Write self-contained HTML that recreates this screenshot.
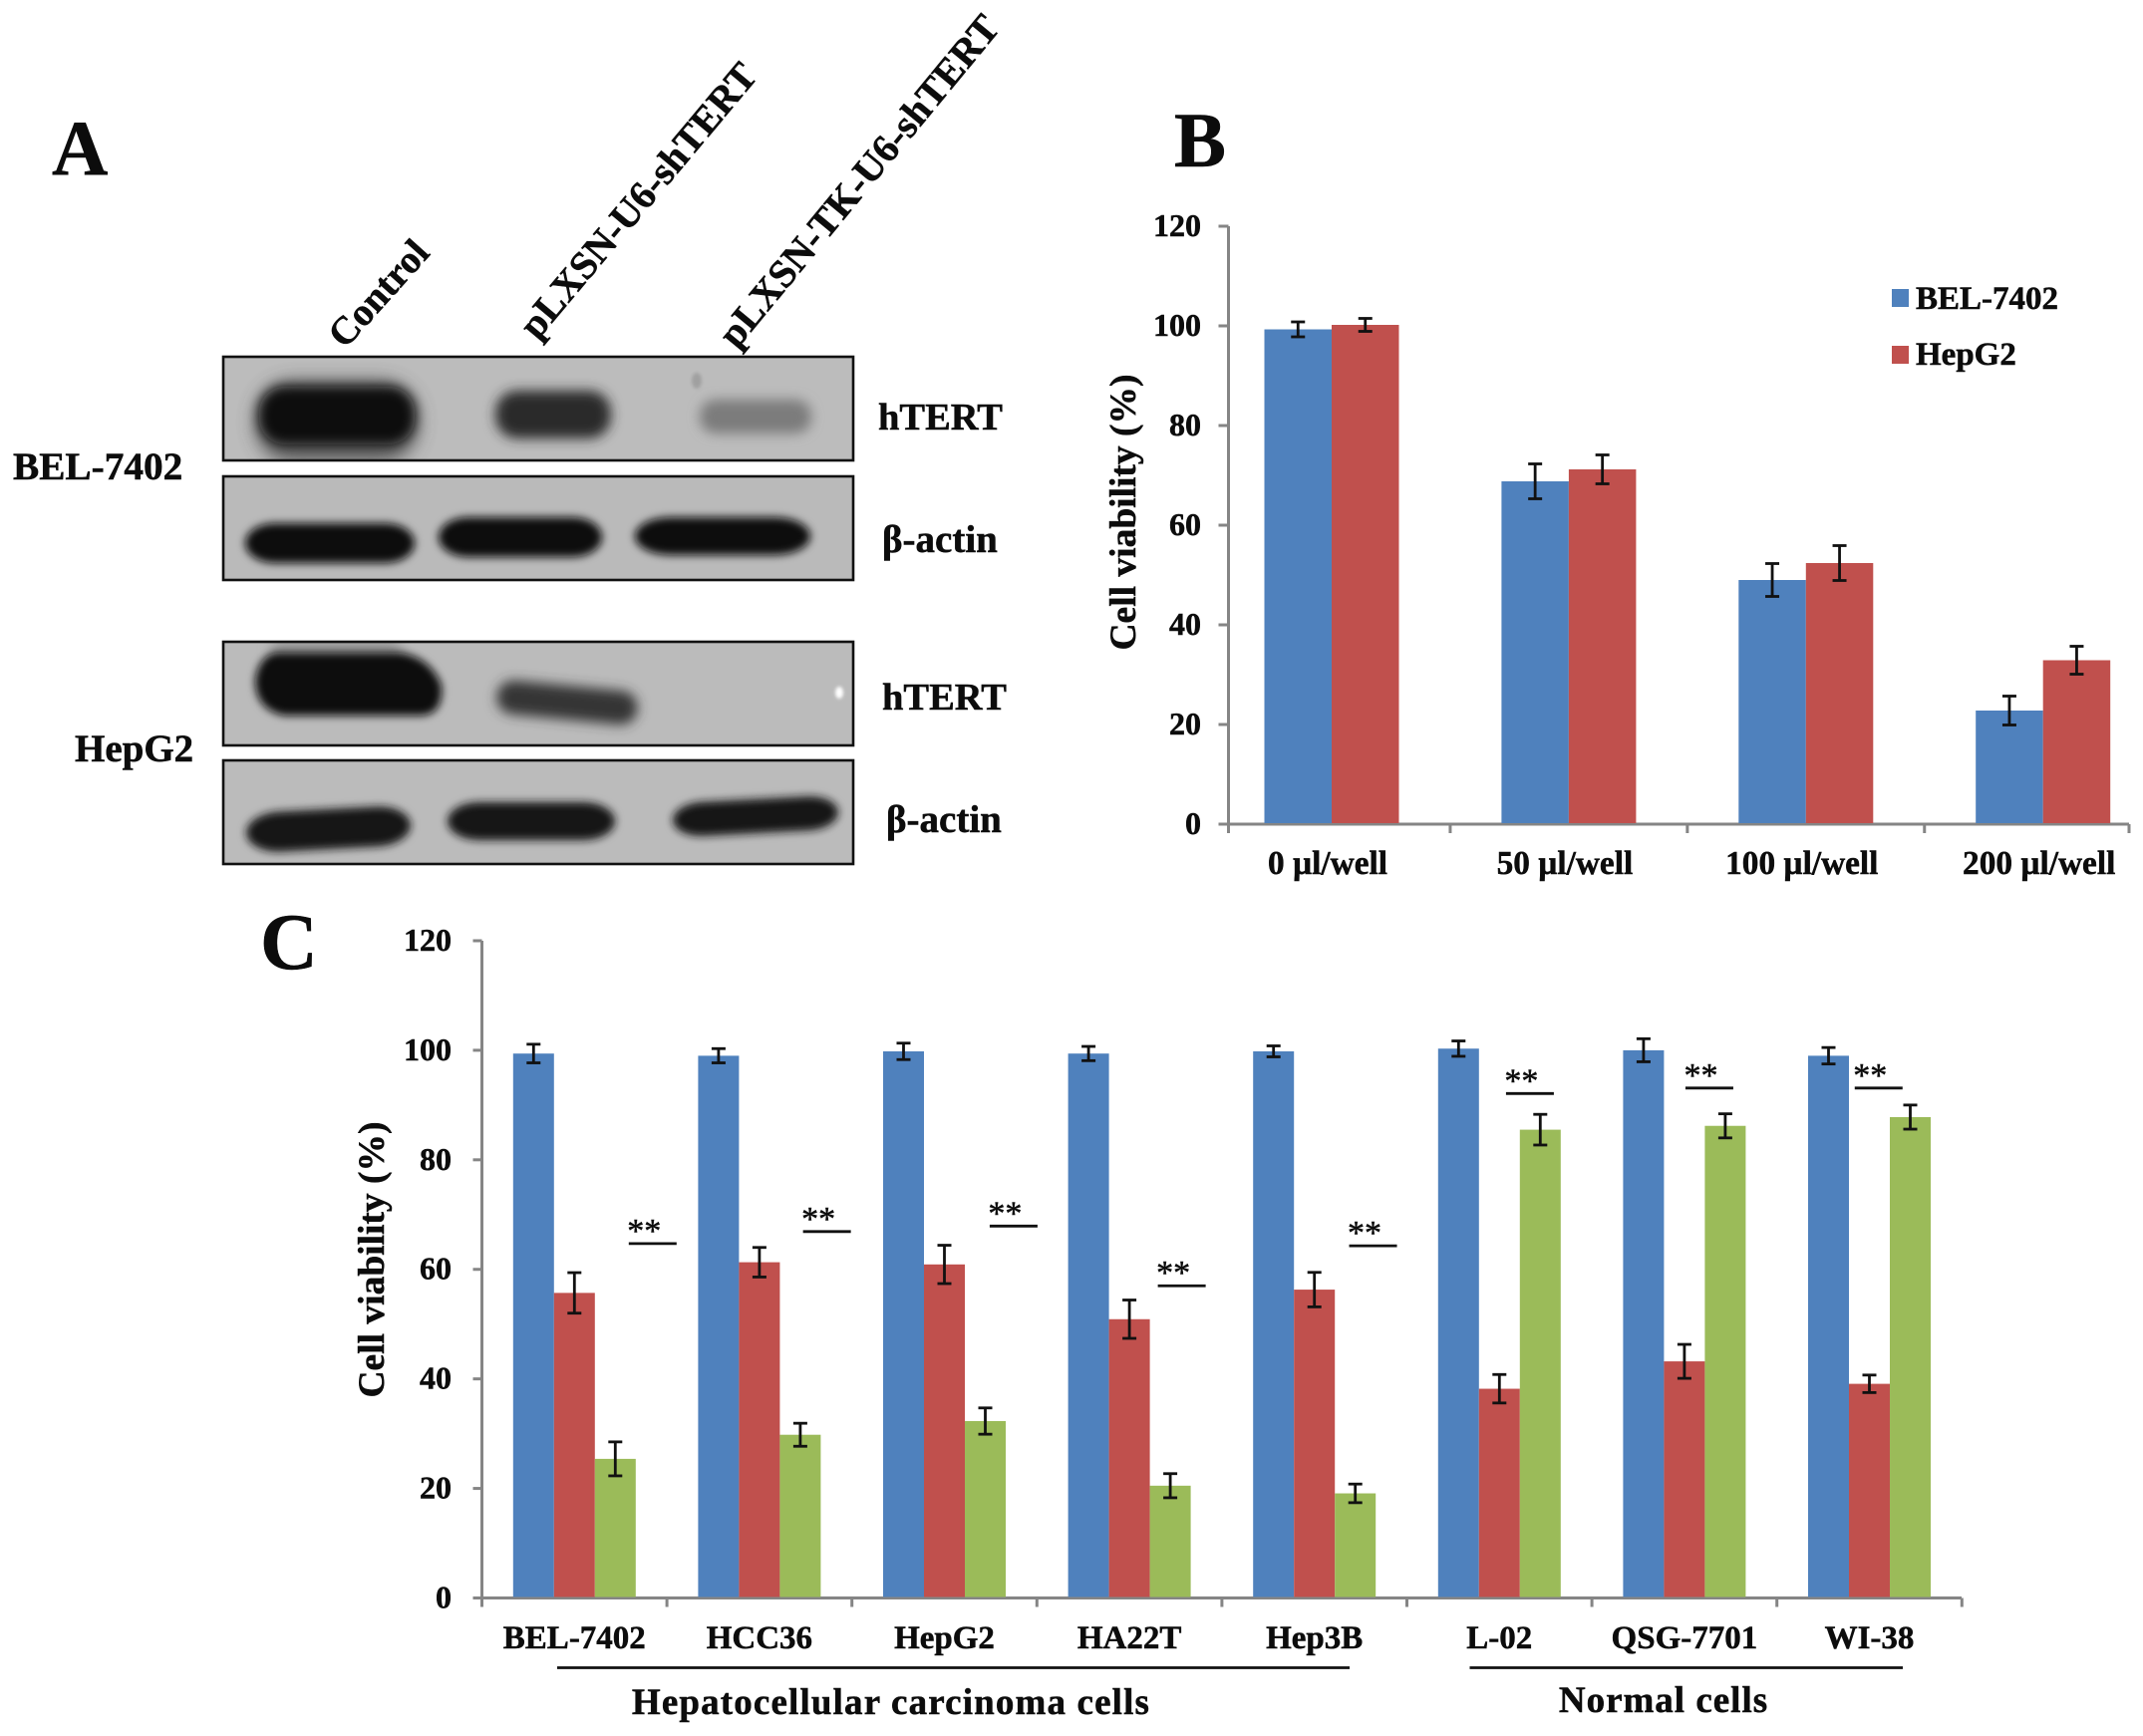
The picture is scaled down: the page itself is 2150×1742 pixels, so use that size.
<!DOCTYPE html>
<html lang="en">
<head>
<meta charset="utf-8">
<title>Western blot and cell viability figure</title>
<style>
html,body{margin:0;padding:0;background:#fff;width:2150px;height:1742px;overflow:hidden}
svg{display:block}
text{font-family:"Liberation Serif","DejaVu Serif",serif;font-weight:bold;fill:#0c0c0c;stroke:#0c0c0c;stroke-width:.5px}
</style>
</head>
<body>
<svg id="figure" xmlns="http://www.w3.org/2000/svg" width="2150" height="1742" viewBox="0 0 2150 1742">
  <defs>
    <filter id="soft8" x="-40%" y="-80%" width="180%" height="260%"><feGaussianBlur stdDeviation="9"/></filter>
    <filter id="soft6" x="-40%" y="-80%" width="180%" height="260%"><feGaussianBlur stdDeviation="6"/></filter>
    <filter id="soft4" x="-30%" y="-60%" width="160%" height="220%"><feGaussianBlur stdDeviation="4.2"/></filter>
    <filter id="soft2" x="-100%" y="-100%" width="300%" height="300%"><feGaussianBlur stdDeviation="1.5"/></filter>
    <clipPath id="clip1"><rect x="224" y="358" width="632" height="104"/></clipPath>
    <clipPath id="clip2"><rect x="224" y="478" width="632" height="104"/></clipPath>
    <clipPath id="clip3"><rect x="224" y="644" width="632" height="104"/></clipPath>
    <clipPath id="clip4"><rect x="224" y="763" width="632" height="104"/></clipPath>
  </defs>
  <rect width="2150" height="1742" fill="#ffffff"/>

  <text x="52" y="175" font-size="78">A</text>
  <text x="1178" y="167" font-size="78">B</text>
  <text x="261" y="972" font-size="80">C</text>

  <!-- Panel A -->
  <g>
    <text font-size="39" transform="translate(346 351) rotate(-48)">Control</text>
    <text font-size="39.6" transform="translate(539 342) rotate(-50)">pLXSN-U6-shTERT</text>
    <text font-size="39.7" transform="translate(739 351) rotate(-50.5)">pLXSN-TK-U6-shTERT</text>

    <g>
      <rect x="224" y="358" width="632" height="104" fill="#bcbcbc"/>
      <g clip-path="url(#clip1)">
        <rect x="256" y="382" width="164" height="82" rx="38" fill="#444444" opacity=".8" filter="url(#soft8)"/>
        <rect x="260" y="388" width="156" height="58" rx="26" fill="#0f0f0f" filter="url(#soft6)"/>
        <rect x="497" y="392" width="116" height="48" rx="22" fill="#2c2c2c" filter="url(#soft6)"/>
        <rect x="702" y="401" width="112" height="34" rx="16" fill="#7c7c7c" filter="url(#soft6)"/>
        <ellipse cx="699" cy="382" rx="5" ry="8" fill="#a0a0a0" filter="url(#soft2)"/>
      </g>
      <rect x="224" y="358" width="632" height="104" fill="none" stroke="#111" stroke-width="2.6"/>
    </g>
    <g>
      <rect x="224" y="478" width="632" height="104" fill="#bababa"/>
      <g clip-path="url(#clip2)" filter="url(#soft4)">
        <rect x="246" y="525" width="170" height="40" rx="30" ry="20" fill="#111"/>
        <rect x="440" y="519" width="164" height="40" rx="30" ry="20" fill="#111"/>
        <rect x="637" y="519" width="176" height="38" rx="36" ry="19" fill="#111"/>
      </g>
      <rect x="224" y="478" width="632" height="104" fill="none" stroke="#111" stroke-width="2.6"/>
    </g>
    <g>
      <rect x="224" y="644" width="632" height="104" fill="#bbbbbb"/>
      <g clip-path="url(#clip3)">
        <rect x="272" y="640" width="130" height="30" rx="10" fill="#9c9c9c" filter="url(#soft6)"/>
        <path d="M277 655 H402 Q432 660 443 688 Q445 716 424 718 H285 Q256 712 256 682 Q260 658 277 655 Z" fill="#111" filter="url(#soft4)"/>
        <rect x="498" y="688" width="142" height="34" rx="17" fill="#343434" transform="rotate(5.5 569 705)" filter="url(#soft6)"/>
        <ellipse cx="842" cy="695" rx="4" ry="6" fill="#ffffff" filter="url(#soft2)"/>
      </g>
      <rect x="224" y="644" width="632" height="104" fill="none" stroke="#111" stroke-width="2.6"/>
    </g>
    <g>
      <rect x="224" y="763" width="632" height="104" fill="#bbbbbb"/>
      <g clip-path="url(#clip4)" filter="url(#soft4)">
        <rect x="247" y="812" width="165" height="40" rx="34" ry="20" fill="#121212" transform="rotate(-3 329 832)"/>
        <rect x="449" y="805" width="168" height="38" rx="32" ry="19" fill="#121212"/>
        <rect x="675" y="802" width="166" height="34" rx="30" ry="17" fill="#121212" transform="rotate(-3 758 819)"/>
      </g>
      <rect x="224" y="763" width="632" height="104" fill="none" stroke="#111" stroke-width="2.6"/>
    </g>

    <text x="881" y="431" font-size="38.5">hTERT</text>
    <text x="885" y="554" font-size="39">β-actin</text>
    <text x="885" y="712" font-size="38.5">hTERT</text>
    <text x="889" y="835" font-size="39">β-actin</text>
    <text x="13" y="481" font-size="39.3">BEL-7402</text>
    <text x="75" y="764" font-size="39">HepG2</text>
  </g>

  <g id="chart-b"></g>
  <g id="chart-c"></g>
</svg>

<script>
/* ---------- Panel B data ---------- */
const bCategories = ['0 µl/well', '50 µl/well', '100 µl/well', '200 µl/well'];
const bSeriesNames = ['BEL-7402', 'HepG2'];
const bBel7402 = [99.3, 68.8, 49.0, 22.8];
const bHepG2 = [100.2, 71.2, 52.4, 32.9];
const bBel7402Err = [1.5, 3.5, 3.3, 2.9];
const bHepG2Err = [1.3, 2.9, 3.5, 2.8];
const bTicks = [0, 20, 40, 60, 80, 100, 120];

/* ---------- Panel C data ---------- */
const cCategories = ['BEL-7402', 'HCC36', 'HepG2', 'HA22T', 'Hep3B', 'L-02', 'QSG-7701', 'WI-38'];
const cBlue = [99.4, 99.0, 99.8, 99.4, 99.8, 100.3, 100.0, 99.0];
const cRed = [55.7, 61.3, 60.9, 50.9, 56.3, 38.2, 43.2, 39.1];
const cGreen = [25.4, 29.8, 32.3, 20.5, 19.1, 85.5, 86.2, 87.8];
const cBlueErr = [1.7, 1.3, 1.5, 1.3, 1.0, 1.4, 2.1, 1.5];
const cRedErr = [3.7, 2.7, 3.5, 3.5, 3.15, 2.6, 3.1, 1.6];
const cGreenErr = [3.1, 2.1, 2.4, 2.2, 1.7, 2.8, 2.2, 2.2];
const cTicks = [0, 20, 40, 60, 80, 100, 120];
const cSigLevel = [64.7, 66.9, 67.9, 57.0, 64.3, 92.1, 93.1, 93.1];
const cSigCategoryPos = [0.923, 1.865, 2.874, 3.783, 4.817, 5.665, 6.635, 7.55];

const NS = 'http://www.w3.org/2000/svg';
const BLUE = '#4f81bd', RED = '#c0504d', GREEN = '#9bbb59', AXIS = '#858585', INK = '#0c0c0c';

function rect(parent, x, y, w, h, fill) {
  const el = document.createElementNS(NS, 'rect');
  el.setAttribute('x', x);
  el.setAttribute('y', y);
  el.setAttribute('width', w);
  el.setAttribute('height', h);
  el.setAttribute('fill', fill);
  parent.appendChild(el);
  return el;
}
function line(parent, x1, y1, x2, y2, stroke, sw) {
  const el = document.createElementNS(NS, 'line');
  el.setAttribute('x1', x1);
  el.setAttribute('y1', y1);
  el.setAttribute('x2', x2);
  el.setAttribute('y2', y2);
  el.setAttribute('stroke', stroke);
  el.setAttribute('stroke-width', sw);
  parent.appendChild(el);
  return el;
}
function label(parent, str, x, y, size, anchor) {
  const el = document.createElementNS(NS, 'text');
  el.setAttribute('x', x);
  el.setAttribute('y', y);
  el.setAttribute('font-size', size);
  el.setAttribute('text-anchor', anchor || 'start');
  el.textContent = str;
  parent.appendChild(el);
  return el;
}
function group(parent) {
  const el = document.createElementNS(NS, 'g');
  parent.appendChild(el);
  return el;
}
function errorBar(parent, x, yHi, yLo) {
  const g = group(parent);
  line(g, x, yHi, x, yLo, '#111', 2.8);
  line(g, x - 7, yHi, x + 7, yHi, '#111', 2.8);
  line(g, x - 7, yLo, x + 7, yLo, '#111', 2.8);
  return g;
}

/* ---------- Panel B ---------- */
(function () {
  const root = document.getElementById('chart-b');
  const axisX = 1232.5, axisEnd = 2136, y0 = 827, pxPerUnit = 5.0;
  const center0 = 1336, step = 237.9, barW = 67.5;
  const yB = v => y0 - v * pxPerUnit;
  const xB = i => center0 + step * i;

  const yAxis = line(root, axisX, yB(120), axisX, y0, AXIS, 3);
  
  
  const xAxis = line(root, axisX - 10, y0, axisEnd, y0, AXIS, 3);
  
  

  bTicks.forEach(t => {
    const tk = line(root, axisX - 10, yB(t), axisX, yB(t), AXIS, 3);
    
    
    const lb = label(root, String(t), 1205, yB(t) + 10, 32, 'end');
    
    
  });

  const edges = [axisX].concat(bCategories.slice(1).map((c, i) => xB(i) + step / 2), [axisEnd]);
  edges.forEach((x, i) => {
    const tk = line(root, x, y0, x, y0 + 9, AXIS, 3);
    
    
  });

  bCategories.forEach((c, i) => {
    const x = xB(i);
    const b1 = rect(root, x - barW, yB(bBel7402[i]), barW, y0 - yB(bBel7402[i]) - 1, BLUE);
    
    
    const b2 = rect(root, x, yB(bHepG2[i]), barW, y0 - yB(bHepG2[i]) - 1, RED);
    
    
    const e1 = errorBar(root, x - barW / 2, yB(bBel7402[i] + bBel7402Err[i]), yB(bBel7402[i] - bBel7402Err[i]));
    
    
    const e2 = errorBar(root, x + barW / 2, yB(bHepG2[i] + bHepG2Err[i]), yB(bHepG2[i] - bHepG2Err[i]));
    
    
    const lb = label(root, c, x - 4, 877, 33.3, 'middle');
    
    
  });

  const title = label(root, 'Cell viability (%)', 0, 0, 37.5, 'middle');
  title.setAttribute('transform', 'translate(1139 514) rotate(-90)');
  
  

  const legendColors = [BLUE, RED];
  const legendSwatchY = [290, 347];
  const legendTextY = [310, 366];
  bSeriesNames.forEach((n, i) => {
    const lg = group(root);
    
    
    rect(lg, 1898, legendSwatchY[i], 17, 18, legendColors[i]);
    label(lg, n, 1922, legendTextY[i], 33);
  });
})();

/* ---------- Panel C ---------- */
(function () {
  const root = document.getElementById('chart-c');
  const axisX = 483.5, axisEnd = 1968, y0 = 1603.5, pxPerUnit = 5.496;
  const step = 185.6, barW = 41;
  const yC = v => y0 - v * pxPerUnit;
  const xC = i => axisX + step * (i + 0.5);

  const yAxis = line(root, axisX, yC(120), axisX, y0, AXIS, 3);
  
  
  const xAxis = line(root, axisX - 9, y0, axisEnd, y0, AXIS, 3);
  
  

  cTicks.forEach(t => {
    const tk = line(root, axisX - 9, yC(t), axisX, yC(t), AXIS, 3);
    
    
    const lb = label(root, String(t), 453, yC(t) + 10, 32, 'end');
    
    
  });

  for (let i = 0; i <= cCategories.length; i++) {
    const x = axisX + step * i;
    const tk = line(root, x, y0, x, y0 + 9, AXIS, 3);
    
    
  }

  const seriesVals = [cBlue, cRed, cGreen];
  const seriesErr = [cBlueErr, cRedErr, cGreenErr];
  const seriesColor = [BLUE, RED, GREEN];
  const seriesKey = ['blue', 'red', 'green'];

  cCategories.forEach((c, i) => {
    const cx = xC(i);
    seriesVals.forEach((vals, s) => {
      const left = cx - 1.5 * barW + s * barW;
      const bar = rect(root, left, yC(vals[i]), barW, y0 - yC(vals[i]) - 1, seriesColor[s]);
      
      
    });
    seriesVals.forEach((vals, s) => {
      const mid = cx - barW + s * barW;
      const err = errorBar(root, mid, yC(vals[i] + seriesErr[s][i]), yC(vals[i] - seriesErr[s][i]));
      
      
    });
    const lb = label(root, c, cx, 1654, 33, 'middle');
    
    

    const sx = axisX + step * cSigCategoryPos[i];
    const sy = yC(cSigLevel[i]);
    const sig = line(root, sx - 24, sy, sx + 24, sy, '#111', 2.8);
    
    
    const st = label(root, '**', sx - 8.5, sy - 2, 34, 'middle');
    st.setAttribute('style', 'font-weight:normal');
    
    
  });

  const title = label(root, 'Cell viability (%)', 0, 0, 37.5, 'middle');
  title.setAttribute('transform', 'translate(385 1264) rotate(-90)');
  
  

  const hccLine = line(root, 559, 1673.5, 1354, 1673.5, '#111', 2.8);
  
  
  const normLine = line(root, 1474.5, 1673.5, 1909, 1673.5, '#111', 2.8);
  
  

  const hccText = label(root, 'Hepatocellular carcinoma cells', 894, 1720, 37, 'middle');
  hccText.setAttribute('letter-spacing', '1.15');
  
  
  const normText = label(root, 'Normal cells', 1669, 1718, 37, 'middle');
  normText.setAttribute('letter-spacing', '1');
  
  
})();
</script>
</body>
</html>
